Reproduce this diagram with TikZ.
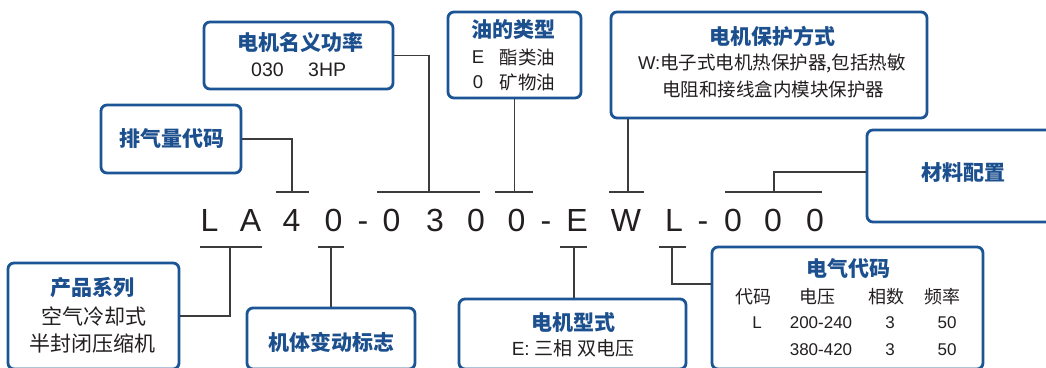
\documentclass[tikz,border=0pt]{standalone}
\usepackage{fontspec}
\setmainfont{Liberation Sans}
\newfontfamily\cjk{Noto Sans CJK SC}
\definecolor{boxblue}{HTML}{1C5595}
\definecolor{titleblue}{HTML}{1B4F8E}
\definecolor{inkc}{HTML}{231F20}
\definecolor{wirec}{HTML}{3C3C3C}
\tikzset{
 box/.style={draw=boxblue, line width=2.8pt, rounded corners=6pt, fill=white, inner sep=0pt},
 ttl/.style={text=titleblue, font=\cjk\bfseries\fontsize{21}{21}\selectfont, inner sep=0pt},
 txt/.style={text=inkc, inner sep=0pt},
 codech/.style={text=inkc, font=\fontsize{32}{32}\selectfont, inner sep=0pt, anchor=base},
 wire/.style={draw=wirec, line width=1.3pt},
}
\begin{document}
\begin{tikzpicture}[x=1pt,y=-1pt]
\useasboundingbox (0,0) rectangle (1046,367);
\fill[white] (0,0) rectangle (1046,367);
\clip (0,0) rectangle (1046,367);

% boxes
\node[box, minimum width=189pt, minimum height=67pt] (pw) at (298.5,55.5) {};
\node[box, minimum width=140pt, minimum height=68pt] (disp) at (171,139) {};
\node[box, minimum width=133pt, minimum height=86pt] (oil) at (514.5,55) {};
\node[box, minimum width=316pt, minimum height=106pt] (prot) at (769,65) {};
\node[box, minimum width=193pt, minimum height=92pt] (mat) at (963.5,176) {};
\node[box, minimum width=171pt, minimum height=106pt] (series) at (93.5,316) {};
\node[box, minimum width=168pt, minimum height=61pt] (body) at (331,338.5) {};
\node[box, minimum width=227pt, minimum height=70pt] (mtype) at (572.5,334) {};
\node[box, minimum width=271pt, minimum height=122pt] (elec) at (847.5,308) {};

% texts in boxes
\node[ttl] (pwT) at (300,42) {电机名义功率};
\node[txt, font=\fontsize{19.5}{20}\selectfont] (pw1) at (267.5,70) {030};
\node[txt, font=\fontsize{19.5}{20}\selectfont, anchor=west] (pw2) at (308,70) {3HP};

\node[ttl] (dispT) at (172,139) {排气量代码};

\node[ttl] (oilT) at (513.5,30) {油的类型};
\node[txt, font=\fontsize{18.5}{19}\selectfont] (oilE) at (478,57) {E};
\node[txt, font=\cjk\fontsize{18.5}{19}\selectfont] (oilE2) at (527.5,57) {酯类油};
\node[txt, font=\fontsize{18.5}{19}\selectfont] (oil0) at (478,82.5) {0};
\node[txt, font=\cjk\fontsize{18.5}{19}\selectfont] (oil02) at (527.5,82.5) {矿物油};

\node[ttl] (protT) at (772.5,36) {电机保护方式};
\node[txt, font=\fontsize{18.5}{19}\selectfont] (prot1) at (772,63) {W:{\cjk 电子式电机热保护器,包括热敏}};
\node[txt, font=\cjk\fontsize{18.5}{19}\selectfont] (prot2) at (773,89) {电阻和接线盒内模块保护器};

\node[ttl] (matT) at (963.5,173) {材料配置};

\node[ttl] (seriesT) at (92.5,288) {产品系列};
\node[txt, font=\cjk\fontsize{21}{21}\selectfont] (series1) at (93.5,316) {空气冷却式};
\node[txt, font=\cjk\fontsize{21}{21}\selectfont] (series2) at (92.5,343) {半封闭压缩机};

\node[ttl] (bodyT) at (331,342) {机体变动标志};

\node[ttl] (mtypeT) at (573.5,322) {电机型式};
\node[txt, font=\fontsize{19}{19}\selectfont] (mtype1) at (573,348) {E: {\cjk 三相 双电压}};

\node[ttl] (elecT) at (848,269) {电气代码};
\node[txt, font=\cjk\fontsize{18}{18}\selectfont] (h1) at (753,297) {代码};
\node[txt, font=\cjk\fontsize{18}{18}\selectfont] (h2) at (817,297) {电压};
\node[txt, font=\cjk\fontsize{18}{18}\selectfont] (h3) at (886,297) {相数};
\node[txt, font=\cjk\fontsize{18}{18}\selectfont] (h4) at (942,297) {频率};
\node[txt, font=\fontsize{17}{17}\selectfont] (r1a) at (757,323) {L};
\node[txt, font=\fontsize{17}{17}\selectfont] (r1b) at (821,323) {200-240};
\node[txt, font=\fontsize{17}{17}\selectfont] (r1c) at (890,323) {3};
\node[txt, font=\fontsize{17}{17}\selectfont] (r1d) at (947,323) {50};
\node[txt, font=\fontsize{17}{17}\selectfont] (r2b) at (821,350) {380-420};
\node[txt, font=\fontsize{17}{17}\selectfont] (r2c) at (890,350) {3};
\node[txt, font=\fontsize{17}{17}\selectfont] (r2d) at (947,350) {50};

% model code
\foreach \ch/\x [count=\i] in {L/209.5, A/250.5, 4/291.5, 0/333.5, -/363, 0/391.5, 3/435, 0/476, 0/516.5, -/546, E/577, W/626, L/674, -/703, 0/733, 0/773, 0/815}
  \node[codech] (c\i) at (\x,231.5) {\ch};

% top bars
\coordinate (t1a) at (276,192); \coordinate (t1b) at (309,192); \coordinate (t1m) at (292,192);
\coordinate (t2a) at (377,192); \coordinate (t2b) at (480,192); \coordinate (t2m) at (429,192);
\coordinate (t3a) at (495,192); \coordinate (t3b) at (533,192); \coordinate (t3m) at (514.5,192);
\coordinate (t4a) at (609,192); \coordinate (t4b) at (644,192); \coordinate (t4m) at (628,192);
\coordinate (t5a) at (725,192); \coordinate (t5b) at (822,192); \coordinate (t5m) at (774,192);
% bottom bars
\coordinate (b1a) at (200,247); \coordinate (b1b) at (262,247); \coordinate (b1m) at (230,247);
\coordinate (b2a) at (318,247); \coordinate (b2b) at (344,247); \coordinate (b2m) at (331,247);
\coordinate (b3a) at (560,247); \coordinate (b3b) at (587,247); \coordinate (b3m) at (574,247);
\coordinate (b4a) at (659,247); \coordinate (b4b) at (686,247); \coordinate (b4m) at (672,247);

\foreach \n in {t1,t2,t3,t4,t5,b1,b2,b3,b4}
  \draw[wire] (\n a) -- (\n b);

% connectors
\draw[wire] (disp.east) -| (t1m);
\draw[wire] (pw.east) -| (t2m);
\draw[wire] (oil.south) -- (t3m);
\draw[wire] (t4m |- prot.south) -- (t4m);
\draw[wire] ([yshift=4pt]mat.west) -| (t5m);
\draw[wire] (series.east) -| (b1m);
\draw[wire] (b2m) -- (b2m |- body.north);
\draw[wire] (b3m) -- (b3m |- mtype.north);
\draw[wire] (b4m) |- ([yshift=24pt]elec.west);
\end{tikzpicture}
\end{document}
